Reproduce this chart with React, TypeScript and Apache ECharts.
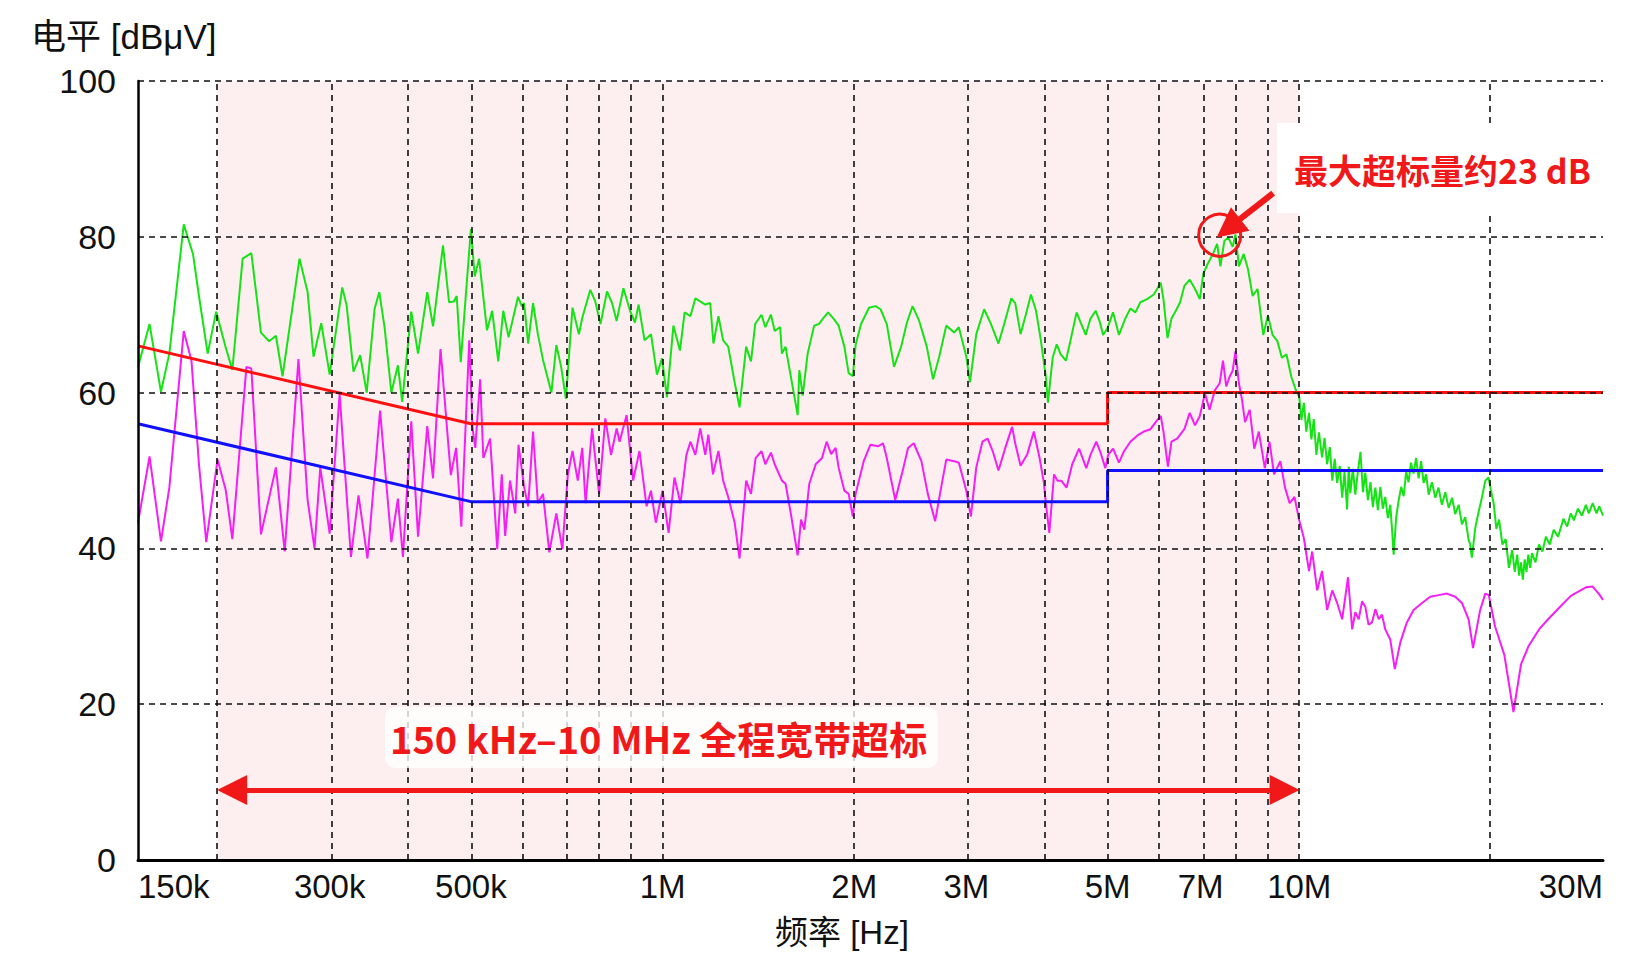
import React, { useEffect, useRef } from "react";
import * as echarts from "echarts";

// ---------- data (frequency in MHz, level in dBµV) ----------
const gridFreqsMHz = [0.2, 0.3, 0.4, 0.5, 0.6, 0.7, 0.8, 0.9, 1, 2, 3, 4, 5, 6, 7, 8, 9, 10, 20, 30];
const labelFreqsMHz = [0.15, 0.3, 0.5, 1, 2, 3, 5, 7, 10, 30];
const yGridLevels = [20, 40, 60, 80, 100];
const exceedBandMHz = [0.2, 10];
const maxExceedPoint = [7.5, 80.2];

const qpLimit = [[0.15, 66], [0.5, 56], [5, 56], [5, 60], [30, 60]];
const avgLimit = [[0.15, 56], [0.5, 46], [5, 46], [5, 50], [30, 50]];

const peakTrace = [
  [0.150, 63.3], [0.1564, 68.8], [0.163, 60.1], [0.168, 65], [0.177, 81.6], [0.183, 77.8], [0.187, 72.4], [0.193, 65], [0.199, 70.4],
  [0.206, 65.8], [0.211, 62.9], [0.219, 77.2], [0.226, 77.9], [0.234, 67.7], [0.241, 66.6], [0.247, 67.3], [0.253, 62.1], [0.269, 77.2],
  [0.277, 72.9], [0.283, 64.6], [0.291, 68.9], [0.300, 62.3], [0.314, 73.5], [0.319, 71.2], [0.327, 62.7], [0.335, 64.8], [0.343, 60.0],
  [0.353, 70.8], [0.359, 72.9], [0.366, 68.3], [0.375, 60.0], [0.384, 63.5], [0.390, 58.8], [0.403, 70.4], [0.413, 65.0], [0.427, 72.9],
  [0.436, 68.5], [0.452, 78.9], [0.462, 71.6], [0.470, 71.7], [0.475, 72.4], [0.482, 63.9], [0.491, 72.6], [0.500, 81.0], [0.507, 74.9],
  [0.515, 77.2], [0.530, 68.0], [0.540, 70.5], [0.552, 64.0], [0.562, 70.5], [0.573, 67.1], [0.593, 72.3], [0.601, 71.1], [0.606, 71.5],
  [0.615, 66.3], [0.626, 71.5], [0.637, 67.5], [0.649, 64.2], [0.669, 60.0], [0.681, 66.1], [0.693, 63.3], [0.705, 59.2], [0.722, 70.9],
  [0.739, 67.5], [0.748, 69.6], [0.770, 73.2], [0.784, 71.7], [0.799, 68.8], [0.818, 73.0], [0.833, 71.5], [0.847, 69.2], [0.868, 73.4],
  [0.889, 70.5], [0.905, 69.0], [0.917, 71.3], [0.937, 66.7], [0.959, 67.5], [0.980, 62.3], [0.998, 64.4], [1.016, 59.4], [1.040, 68.6],
  [1.065, 65.4], [1.083, 70.3], [1.106, 69.8], [1.126, 72.1], [1.146, 71.7], [1.167, 71.3], [1.188, 71.5], [1.202, 66.3], [1.224, 69.8],
  [1.245, 66.7], [1.268, 65.9], [1.298, 61.3], [1.321, 58.1], [1.353, 65.9], [1.377, 64.0], [1.398, 68.8], [1.43, 70.0], [1.45, 68.4],
  [1.48, 70.0], [1.50, 67.9], [1.53, 68.4], [1.54, 65.0], [1.56, 65.9], [1.59, 62.1], [1.63, 57.1], [1.64, 62.9], [1.66, 59.6],
  [1.69, 65.0], [1.73, 68.6], [1.76, 68.8], [1.79, 69.6], [1.82, 70.3], [1.86, 69.4], [1.89, 68.6], [1.93, 65.9], [1.96, 62.5],
  [1.99, 62.1], [2.01, 66.1], [2.05, 68.8], [2.11, 70.9], [2.16, 71.1], [2.20, 70.7], [2.25, 68.8], [2.31, 63.3], [2.37, 65.9],
  [2.42, 69.0], [2.47, 71.1], [2.53, 69.2], [2.60, 65.9], [2.66, 61.7], [2.72, 64.6], [2.79, 68.6], [2.87, 67.7], [2.92, 68.4],
  [3.00, 64.6], [3.04, 61.3], [3.11, 67.5], [3.20, 70.7], [3.28, 68.8], [3.37, 66.3], [3.44, 68.8], [3.53, 72.1], [3.58, 71.5],
  [3.65, 67.5], [3.72, 70.0], [3.79, 72.6], [3.86, 70.5], [3.93, 66.6], [4.00, 62.0], [4.03, 58.7], [4.10, 64.5], [4.16, 66.2],
  [4.22, 64.9], [4.30, 64.1], [4.37, 66.6], [4.47, 70.3], [4.53, 69.1], [4.62, 67.4], [4.70, 69.5], [4.79, 70.5], [4.86, 69.1],
  [4.92, 67.4], [5.00, 68.3], [5.10, 70.3], [5.21, 67.4], [5.33, 69.5], [5.43, 70.8], [5.53, 70.3], [5.63, 71.6], [5.77, 72.0],
  [5.91, 72.6], [6.06, 74.1], [6.12, 72.0], [6.21, 67.0], [6.30, 69.5], [6.40, 70.5], [6.50, 71.6], [6.60, 73.7], [6.73, 74.5],
  [6.86, 73.3], [6.98, 72.0], [7.07, 75.3], [7.19, 76.6], [7.32, 77.8], [7.43, 79.1], [7.52, 76.2], [7.63, 79.5], [7.74, 79.9],
  [7.86, 78.7], [7.94, 80.3], [8.04, 76.2], [8.18, 77.8], [8.31, 75.8], [8.45, 72.4], [8.60, 73.3], [8.78, 67.4], [8.93, 69.9],
  [9.08, 67.4], [9.24, 66.6], [9.39, 64.5], [9.55, 64.9], [9.72, 62.0], [9.88, 60.3], [10.0, 59.5], [10.08, 56.5], [10.17, 58.7],
  [10.26, 55.0], [10.36, 57.4], [10.45, 54.0], [10.54, 56.6], [10.64, 52.0], [10.74, 54.9], [10.86, 51.7], [10.96, 54.2], [11.06, 50.8],
  [11.17, 53.0], [11.27, 48.7], [11.37, 51.5], [11.47, 48.4], [11.58, 50.6], [11.68, 46.5], [11.78, 49.8], [11.89, 45.0], [11.96, 50.5],
  [12.03, 47.1], [12.14, 50.2], [12.25, 46.9], [12.36, 49.8], [12.48, 52.4], [12.59, 47.2], [12.70, 49.7], [12.82, 46.2], [12.94, 48.5],
  [13.05, 45.3], [13.17, 47.8], [13.29, 44.9], [13.41, 47.9], [13.53, 45.1], [13.65, 46.6], [13.78, 43.9], [13.90, 45.6], [14.0, 42.0],
  [14.07, 39.2], [14.2, 44.0], [14.33, 46.2], [14.46, 47.9], [14.59, 46.7], [14.72, 49.8], [14.85, 48.5], [14.98, 51.0], [15.12, 49.6],
  [15.26, 51.6], [15.40, 49.0], [15.54, 51.2], [15.68, 48.4], [15.82, 49.5], [15.97, 46.9], [16.16, 48.5], [16.36, 46.5], [16.55, 47.8],
  [16.75, 45.6], [16.96, 47.2], [17.17, 45.2], [17.38, 46.5], [17.58, 44.4], [17.8, 45.6], [18.01, 43.1], [18.23, 44.0], [18.45, 41.1],
  [18.56, 40.5], [18.67, 38.8], [18.9, 42.6], [19.12, 44.6], [19.36, 46.5], [19.60, 48.7], [19.83, 49.1], [20.0, 47.5], [20.2, 45.8],
  [20.4, 42.5], [20.6, 43.7], [20.85, 40.5], [21.1, 41.2], [21.35, 37.5], [21.6, 39.8], [21.8, 37.0], [22.0, 39.2], [22.15, 36.5],
  [22.3, 38.2], [22.45, 36.0], [22.6, 38.6], [22.75, 37.0], [22.9, 39.2], [23.05, 37.5], [23.2, 39.4], [23.5, 38.2], [23.8, 40.5],
  [24.1, 39.6], [24.4, 41.5], [24.75, 40.5], [25.1, 42.4], [25.5, 41.5], [26.0, 43.8], [26.35, 42.8], [26.7, 44.5], [27.0, 43.6],
  [27.4, 45.1], [27.8, 44.2], [28.2, 45.6], [28.5, 44.5], [28.9, 45.8], [29.3, 44.5], [29.6, 45.4], [30.0, 44.2],
];

const avgTrace = [
  [0.150, 43.3], [0.1564, 51.8], [0.163, 40.9], [0.168, 47.8], [0.177, 67.9], [0.182, 64.1], [0.187, 50.8], [0.192, 40.8], [0.200, 51.4],
  [0.206, 47.5], [0.211, 41.2], [0.222, 63.3], [0.226, 63.1], [0.234, 41.8], [0.247, 50.4], [0.255, 39.6], [0.268, 64.3], [0.277, 46.2],
  [0.284, 40.0], [0.290, 50.4], [0.300, 41.9], [0.311, 59.8], [0.324, 38.9], [0.333, 46.8], [0.344, 38.7], [0.360, 57.7], [0.375, 40.8],
  [0.384, 46.4], [0.391, 38.9], [0.403, 56.3], [0.413, 41.5], [0.427, 55.7], [0.436, 49.0], [0.448, 65.6], [0.465, 49.4], [0.474, 52.9],
  [0.483, 42.8], [0.497, 66.7], [0.503, 55.4], [0.508, 52.9], [0.517, 61.7], [0.523, 51.6], [0.536, 54.1], [0.550, 39.9], [0.559, 49.5],
  [0.566, 41.6], [0.576, 48.7], [0.587, 44.5], [0.594, 53.3], [0.606, 47.9], [0.615, 45.4], [0.626, 55.0], [0.637, 45.8], [0.649, 47.0],
  [0.664, 39.5], [0.681, 44.5], [0.696, 39.9], [0.710, 49.5], [0.722, 52.5], [0.736, 48.7], [0.748, 52.9], [0.757, 45.8], [0.775, 55.4],
  [0.795, 47.0], [0.813, 56.7], [0.830, 52.0], [0.847, 55.4], [0.856, 53.7], [0.878, 57.1], [0.899, 48.7], [0.920, 52.5], [0.944, 45.4],
  [0.959, 47.4], [0.976, 43.3], [1.000, 47.4], [1.022, 42.0], [1.044, 49.1], [1.067, 45.8], [1.090, 52.0], [1.106, 53.7], [1.126, 52.0],
  [1.146, 55.4], [1.167, 52.0], [1.180, 54.6], [1.200, 49.5], [1.224, 52.5], [1.245, 48.7], [1.268, 46.6], [1.298, 43.3], [1.321, 38.7],
  [1.353, 48.7], [1.377, 47.0], [1.40, 51.6], [1.43, 52.5], [1.45, 50.8], [1.48, 52.3], [1.50, 50.8], [1.54, 48.7], [1.56, 48.3],
  [1.59, 44.5], [1.63, 39.1], [1.65, 43.7], [1.67, 42.4], [1.70, 48.3], [1.74, 50.8], [1.78, 51.6], [1.81, 53.7], [1.84, 52.1],
  [1.87, 52.9], [1.89, 50.4], [1.93, 47.4], [1.96, 47.0], [1.99, 44.1], [2.01, 47.0], [2.07, 51.2], [2.12, 53.3], [2.18, 53.1],
  [2.22, 53.5], [2.25, 51.6], [2.32, 46.2], [2.39, 50.4], [2.43, 52.9], [2.48, 53.5], [2.55, 51.2], [2.61, 47.0], [2.68, 43.5],
  [2.74, 47.9], [2.79, 51.4], [2.87, 51.2], [2.92, 51.0], [3.00, 47.4], [3.05, 44.1], [3.11, 50.4], [3.18, 53.7], [3.24, 54.1],
  [3.30, 52.5], [3.37, 50.0], [3.46, 53.1], [3.54, 55.6], [3.58, 53.5], [3.65, 50.6], [3.74, 52.1], [3.83, 55.0], [3.91, 51.6],
  [3.97, 48.5], [4.00, 45.8], [4.05, 42.0], [4.12, 49.5], [4.17, 48.7], [4.23, 48.7], [4.31, 47.8], [4.40, 50.8], [4.51, 52.8],
  [4.63, 50.3], [4.70, 52.0], [4.80, 53.7], [4.87, 52.4], [4.96, 50.3], [5.01, 52.0], [5.10, 52.8], [5.21, 51.0], [5.30, 52.4],
  [5.43, 53.7], [5.57, 54.5], [5.70, 55.0], [5.84, 55.3], [5.95, 56.2], [6.06, 57.0], [6.12, 55.0], [6.22, 50.5], [6.30, 53.7],
  [6.43, 54.1], [6.60, 55.3], [6.73, 57.4], [6.86, 55.8], [6.98, 57.0], [7.11, 59.9], [7.23, 57.8], [7.37, 60.3], [7.50, 61.2],
  [7.59, 64.1], [7.68, 60.8], [7.77, 62.0], [7.86, 62.8], [7.94, 65.3], [8.04, 61.2], [8.13, 59.1], [8.22, 56.2], [8.36, 57.8],
  [8.50, 52.8], [8.64, 55.0], [8.83, 50.3], [8.98, 53.7], [9.13, 49.5], [9.34, 51.2], [9.50, 47.8], [9.66, 45.8], [9.83, 46.6],
  [10.0, 43.6], [10.17, 41.3], [10.36, 37.1], [10.48, 39.6], [10.67, 34.6], [10.86, 37.1], [11.06, 32.1], [11.27, 34.6], [11.47, 33.0],
  [11.68, 30.9], [11.93, 36.3], [12.11, 29.6], [12.25, 31.8], [12.40, 30.9], [12.55, 33.2], [12.70, 32.5], [12.85, 30.2], [13.01, 30.5],
  [13.17, 32.2], [13.33, 30.9], [13.49, 31.5], [13.65, 29.6], [13.90, 28.3], [14.13, 24.5], [14.42, 28.0], [14.76, 30.5], [15.12, 32.1],
  [15.59, 33.0], [16.06, 33.8], [16.55, 34.0], [17.06, 34.2], [17.58, 33.8], [18.01, 33.0], [18.45, 30.9], [18.75, 27.2], [19.24, 32.1],
  [19.60, 34.2], [19.85, 34.0], [20.3, 30.0], [21.0, 26.3], [21.7, 19.0], [22.3, 25.1], [22.9, 27.4], [23.8, 29.6], [24.6, 30.9],
  [25.4, 32.1], [26.7, 33.9], [28.2, 35.0], [28.9, 35.1], [29.6, 34.1], [30.0, 33.4],
];

const titleText = "电平 [dBμV]";
const xNameText = "频率 [Hz]";
const calloutText = "最大超标量约23 dB";
const bandText = "150 kHz–10 MHz 全程宽带超标";

// ---------- helpers ----------
const lg = (f: number) => Math.log10(f);
const toXY = (arr: number[][]) => arr.map(([f, v]) => [lg(f), v]);
const fmtFreq = (v: number) => {
  const f = Math.pow(10, v);
  if (f < 1) return Math.round(f * 1000) + "k";
  return Math.round(f) + "M";
};

const SANS = "'Liberation Sans', Arial, sans-serif";
const CJK = "'Liberation Sans', 'Noto Sans CJK SC', sans-serif";
const RED = "#f01818";
const ARROW_INSET_DEC = 0.023; // half arrow-head, so the tips land on the band edges
const ARROW_LEVEL = 9;

const option: any = {
  animation: false,
  backgroundColor: "#ffffff",
  grid: { left: 138, right: 29, top: 81, bottom: 104 },
  xAxis: {
    type: "value",
    min: lg(0.15),
    max: lg(30),
    z: 10,
    axisLine: { show: true, onZero: false, lineStyle: { color: "#000", width: 3 } },
    axisTick: { show: false },
    splitLine: { show: false },
    axisLabel: {
      customValues: labelFreqsMHz.map(lg),
      formatter: (v: number) => fmtFreq(v),
      alignMinLabel: "left",
      alignMaxLabel: "right",
      fontFamily: SANS,
      fontSize: 33,
      color: "#111",
      margin: 10,
    },
  },
  yAxis: {
    type: "value",
    min: 0,
    max: 100,
    interval: 20,
    z: 10,
    axisLine: { show: true, onZero: false, lineStyle: { color: "#000", width: 2.5 } },
    axisTick: { show: false },
    splitLine: { show: false },
    axisLabel: { fontFamily: SANS, fontSize: 34, color: "#111", margin: 22 },
  },
  graphic: [
    {
      type: "text", left: 31, top: 19, z: 100,
      style: { text: titleText, fontSize: 35, fontFamily: CJK, fill: "#111" },
    },
    {
      type: "text", left: 775, top: 916, z: 100,
      style: { text: xNameText, fontSize: 33, fontFamily: CJK, fill: "#111" },
    },
    {
      type: "rect", z: 100,
      shape: { x: 1277, y: 123, width: 355, height: 90 },
      style: { fill: "#ffffff" },
    },
    {
      type: "text", z: 101, x: 1294, y: 169,
      style: {
        text: calloutText, fontSize: 34, fontWeight: "bold",
        fontFamily: "'Noto Sans CJK SC', sans-serif", fill: RED, verticalAlign: "middle",
      },
    },
    {
      type: "rect", z: 100,
      shape: { x: 385, y: 707, width: 553, height: 61, r: 10 },
      style: { fill: "rgba(255,255,255,0.78)" },
    },
    {
      type: "text", z: 101, x: 390, y: 737,
      style: {
        text: bandText, fontSize: 38, fontWeight: "bold",
        fontFamily: "'Noto Sans CJK SC', sans-serif", fill: RED, verticalAlign: "middle",
      },
    },
  ],
  series: [
    {
      name: "band",
      type: "line",
      data: [],
      z: 1,
      silent: true,
      markArea: {
        silent: true,
        itemStyle: { color: "#fdeff0" },
        data: [[{ xAxis: lg(exceedBandMHz[0]) }, { xAxis: lg(exceedBandMHz[1]) }]],
      },
    },
    {
      name: "grid",
      type: "line",
      data: [],
      z: 2,
      silent: true,
      markLine: {
        silent: true,
        symbol: "none",
        label: { show: false },
        lineStyle: { color: "#111", width: 1.6, type: [6, 5] },
        emphasis: { disabled: true },
        data: [
          ...gridFreqsMHz.map((f) => ({ xAxis: lg(f) })),
          ...yGridLevels.map((v) => ({ yAxis: v })),
        ],
      },
    },
    {
      name: "峰值",
      type: "line",
      data: toXY(peakTrace),
      showSymbol: false,
      symbol: "none",
      z: 3,
      lineStyle: { color: "#16e316", width: 2 },
    },
    {
      name: "平均值",
      type: "line",
      data: toXY(avgTrace),
      showSymbol: false,
      symbol: "none",
      z: 3,
      lineStyle: { color: "#f41ff4", width: 2 },
    },
    {
      name: "QP限值",
      type: "line",
      data: toXY(qpLimit),
      showSymbol: false,
      symbol: "none",
      z: 4,
      lineStyle: { color: "#ff1010", width: 3 },
    },
    {
      name: "AV限值",
      type: "line",
      data: toXY(avgLimit),
      showSymbol: false,
      symbol: "none",
      z: 4,
      lineStyle: { color: "#1010ff", width: 3 },
    },
    {
      name: "annot",
      type: "line",
      data: [],
      z: 6,
      silent: true,
      markPoint: {
        silent: true,
        label: { show: false },
        data: [
          {
            coord: [lg(maxExceedPoint[0]), maxExceedPoint[1]],
            symbol: "circle",
            symbolSize: 42,
            itemStyle: { color: "rgba(0,0,0,0)", borderColor: RED, borderWidth: 3 },
          },
        ],
      },
      markLine: {
        silent: true,
        symbol: ["triangle", "triangle"],
        symbolSize: 30,
        label: { show: false },
        emphasis: { disabled: true },
        lineStyle: { color: RED, width: 5, type: "solid" },
        data: [
          [
            { coord: [lg(exceedBandMHz[0]) + ARROW_INSET_DEC, ARROW_LEVEL] },
            { coord: [lg(exceedBandMHz[1]) - ARROW_INSET_DEC, ARROW_LEVEL] },
          ],
          [
            { coord: [lg(9.1), 85.6], symbol: "none", lineStyle: { width: 6 } },
            { coord: [lg(7.74), 81.1], symbol: "triangle", symbolSize: 30 },
          ],
        ],
      },
    },
  ],
};

export default function App() {
  const ref = useRef<HTMLDivElement>(null);
  useEffect(() => {
    const chart = echarts.init(ref.current as HTMLDivElement, null, { renderer: "svg" });
    chart.setOption(option);
    return () => chart.dispose();
  }, []);
  return (
    <div
      ref={ref}
      style={{ position: "fixed", left: 0, top: 0, width: 1632, height: 964, background: "#fff" }}
    />
  );
}
